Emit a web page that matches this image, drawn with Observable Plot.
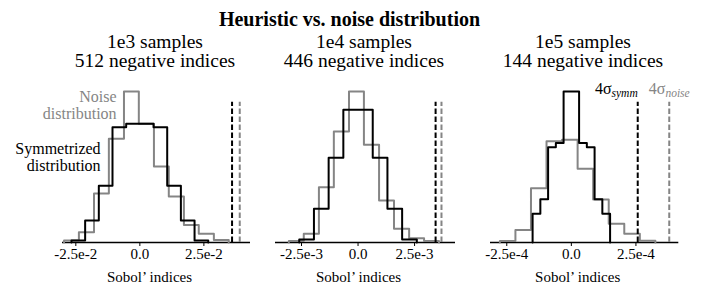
<!DOCTYPE html>
<html><head><meta charset="utf-8">
<script src="https://cdn.jsdelivr.net/npm/d3@7"></script>
<script src="https://cdn.jsdelivr.net/npm/@observablehq/plot@0.6"></script>
<style>
body{margin:0;background:#fff;}
#fig{position:relative;width:703px;height:303px;font-family:"Liberation Serif","Times New Roman",serif;color:#000;overflow:hidden;background:#fff;}
.t{position:absolute;white-space:nowrap;text-align:center;}
.p{position:absolute;top:70px;}
</style></head><body><div id="fig"></div>
<script>
// ---------- data ----------
const figTitle = "Heuristic vs. noise distribution";
const panelTitles = [["1e3 samples","512 negative indices"],["1e4 samples","446 negative indices"],["1e5 samples","144 negative indices"]];
const axisLabel = "Sobol\u2019 indices";
const tickValues = [[-0.025,0,0.025],[-0.0025,0,0.0025],[-0.00025,0,0.00025]];
const tickLabels = [["-2.5e-2","0.0","2.5e-2"],["-2.5e-3","0.0","2.5e-3"],["-2.5e-4","0.0","2.5e-4"]];
const xExtents = [[-0.0302,0.0432],[-0.00365,0.00431],[-0.000313,0.000416]];

// symmetrized distribution (black): bin edges and heights
const symmEdges1 = [-0.0267,-0.02136,-0.01602,-0.01068,-0.00534,0,0.00534,0.01068,0.01602,0.02136,0.0267];
const symmHeights1 = [2,22,56.7,115.3,118.7,118.7,115.3,56.7,22,2];
const symmEdges2 = [-0.0026,-0.00195,-0.0013,-0.00065,0,0.00065,0.0013,0.00195,0.0026];
const symmHeights2 = [3,33.7,84.7,132.7,132.7,84.7,33.7,3];
const symmEdges3 = [-1.5e-4,-1.2e-4,-0.9e-4,-0.6e-4,-0.3e-4,0,0.3e-4,0.6e-4,0.9e-4,1.2e-4,1.5e-4];
const symmHeights3 = [28.7,43.3,95.3,99.5,151,151,99.5,95.3,43.3,28.7];

// noise distribution (gray)
const noiseEdges1 = [-0.0296,-0.0238,-0.0179,-0.0121,-0.0062,-0.0004,0.0055,0.0113,0.0172,0.0230,0.0289,0.0347];
const noiseHeights1 = [2,10.3,49,103.7,151,118.7,76,46,17.5,8.7,2.5];
const noiseEdges2 = [-0.00306,-0.00240,-0.00173,-0.00107,-0.00040,0.00026,0.00093,0.00159,0.00226,0.00292,0.00358];
const noiseHeights2 = [1.5,8.7,55.3,111,151,97.7,42,13.7,4.3,1.5];
const noiseEdges3 = [-2.767e-4,-2.165e-4,-1.563e-4,-0.961e-4,-0.359e-4,0.243e-4,0.845e-4,1.447e-4,2.049e-4,2.651e-4,3.253e-4];
const noiseHeights3 = [1.5,12.5,54.2,101.2,102.8,73.7,43,18.7,8.7,1.7];

// 4-sigma thresholds
const symmThreshold = [0.0360,0.00343,2.57e-4];
const noiseThreshold = [0.0390,0.00369,3.79e-4];
const thresholdTop = 140.3;
const yMax = 151;

// legend annotations (panel 1)
const noiseLegend = {x:-0.00908, y:123.7, text:"Noise\ndistribution"};
const symmLegend = {x:-0.01532, y:72, text:"Symmetrized\ndistribution"};
const sigmaLabels = [{sub:"symm"},{sub:"noise"}];

// ---------- layout ----------
const GRAY = "#858585";
const FONT = '"Liberation Serif","Times New Roman",serif';
const panels = [
  {left:0, width:258, mL:62, mR:8, center:155},
  {left:258, width:212, mL:17, mR:15, center:364},
  {left:470, width:233, mL:20, mR:24.7, center:583}
];
const symmE = [symmEdges1,symmEdges2,symmEdges3], symmH = [symmHeights1,symmHeights2,symmHeights3];
const noiseE = [noiseEdges1,noiseEdges2,noiseEdges3], noiseH = [noiseHeights1,noiseHeights2,noiseHeights3];

function stepPoints(edges, heights){
  const pts = [{x:edges[0], y:0}];
  heights.forEach((h,i)=>pts.push({x:edges[i], y:h}));
  pts.push({x:edges[edges.length-1], y:0});
  return pts;
}

const fig = document.getElementById("fig");
panels.forEach((p,i)=>{
  const marks = [
    Plot.axisX({ticks:tickValues[i], tickFormat:d=>tickLabels[i][tickValues[i].indexOf(d)], tickSize:4, tickPadding:2, fontSize:15, fontFamily:FONT, label:null}),
    Plot.ruleY([0], {strokeWidth:1.3}),
    Plot.line(stepPoints(noiseE[i], noiseH[i]), {x:"x", y:"y", curve:"step-after", stroke:GRAY, strokeWidth:2}),
    Plot.line(stepPoints(symmE[i], symmH[i]), {x:"x", y:"y", curve:"step-after", stroke:"black", strokeWidth:2}),
    Plot.ruleX([symmThreshold[i]], {y1:0, y2:thresholdTop, stroke:"black", strokeWidth:2, strokeDasharray:"5.5,2.5"}),
    Plot.ruleX([noiseThreshold[i]], {y1:0, y2:thresholdTop, stroke:GRAY, strokeWidth:2, strokeDasharray:"5.5,2.5"}),
    Plot.text([axisLabel], {frameAnchor:"bottom", dy:39, dx:-7, lineAnchor:"bottom", fontSize:15, fontFamily:FONT})
  ];
  if (i===0){
    marks.push(Plot.text([noiseLegend], {x:"x", y:"y", text:"text", textAnchor:"end", lineAnchor:"bottom", lineHeight:1.04, fontSize:16, fontFamily:FONT, fill:GRAY}));
    marks.push(Plot.text([symmLegend], {x:"x", y:"y", text:"text", textAnchor:"end", lineAnchor:"bottom", lineHeight:1.04, fontSize:16, fontFamily:FONT, fill:"black"}));
  }
  if (i===2){
    marks.push(Plot.text([symmThreshold[i]], {x:d=>d, y:yMax, dy:2, text:()=>"4\u03c3", textAnchor:"end", lineAnchor:"bottom", fontSize:16, fontFamily:FONT, fill:"black"}));
    marks.push(Plot.text([noiseThreshold[i]], {x:d=>d, y:yMax, dy:2, text:()=>"4\u03c3", textAnchor:"middle", lineAnchor:"bottom", fontSize:16, fontFamily:FONT, fill:GRAY}));
  }
  const svg = Plot.plot({
    width:p.width, height:233, marginLeft:p.mL, marginRight:p.mR, marginTop:21, marginBottom:61,
    x:{domain:xExtents[i]}, y:{domain:[0,yMax], axis:null},
    style:{fontFamily:FONT, fontSize:"15px", background:"transparent", overflow:"visible"},
    marks
  });
  if (i===2){
    let k = 0;
    d3.select(svg).selectAll("text").filter(function(){return this.textContent==="4\u03c3";}).each(function(){
      const sub = sigmaLabels[k++].sub;
      d3.select(this).append("tspan").attr("dy","3").attr("font-size","11.5").attr("font-style","italic").text(sub);
    });
  }
  const wrap = document.createElement("div");
  wrap.className = "p";
  wrap.style.left = p.left+"px";
  wrap.appendChild(svg);
  fig.appendChild(wrap);

  panelTitles[i].forEach((line,j)=>{
    const st = document.createElement("div");
    st.className = "t";
    st.style.cssText = `left:${p.center-150}px;width:300px;top:${33.5+j*19}px;font-size:19.5px;line-height:16px;`;
    st.textContent = line;
    fig.appendChild(st);
  });
});
const tt = document.createElement("div");
tt.className = "t";
tt.style.cssText = "left:0;width:699px;top:9.25px;font-size:20px;line-height:20px;font-weight:bold;";
tt.textContent = figTitle;
fig.appendChild(tt);
</script></body></html>
